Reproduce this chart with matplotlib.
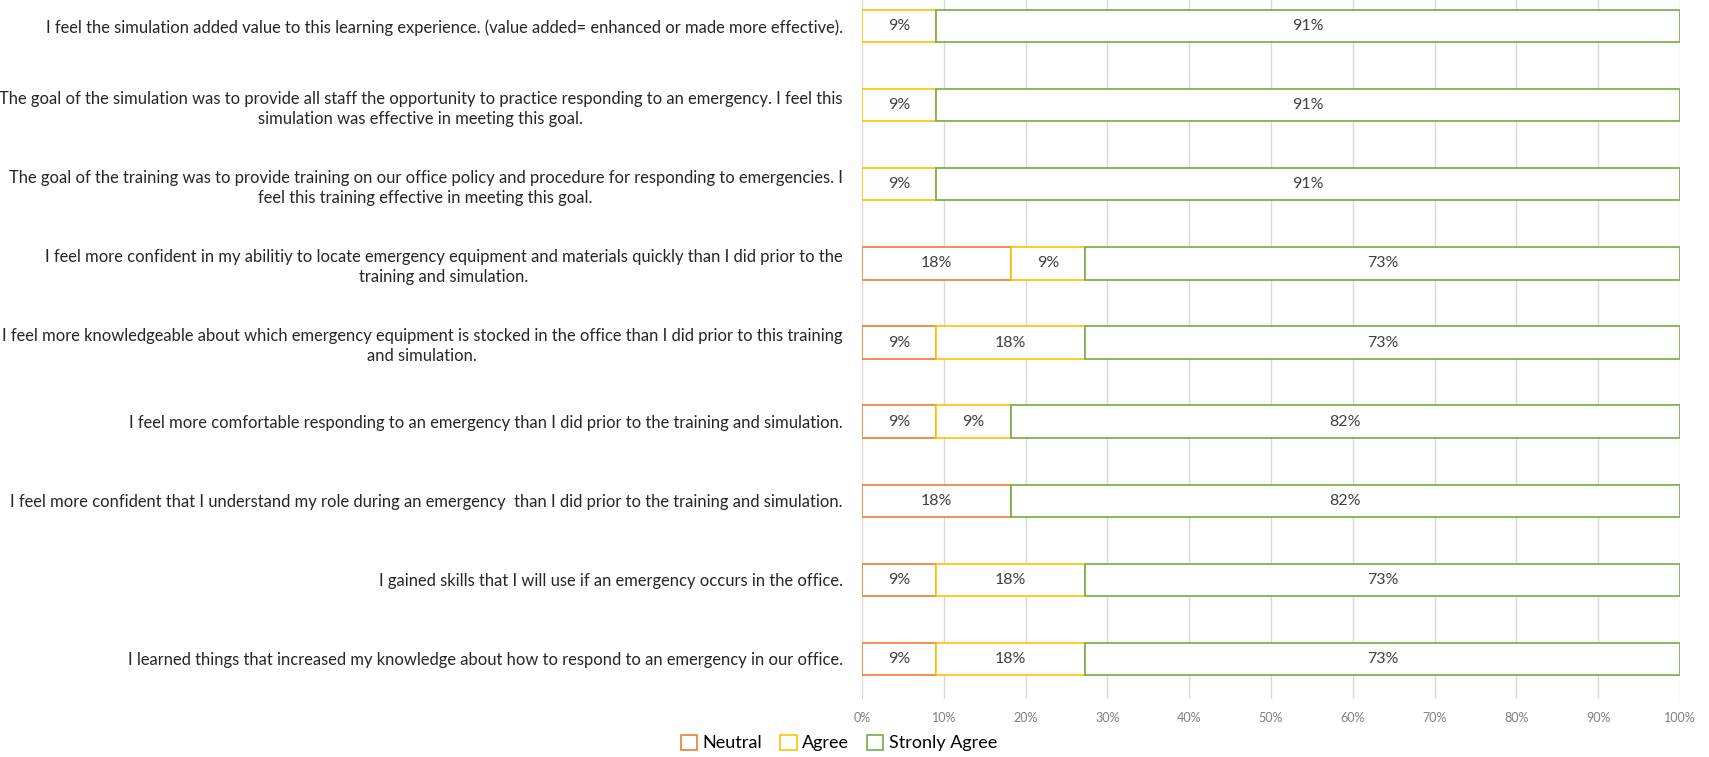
import numpy as np
import matplotlib.pyplot as plt
from matplotlib.patches import Patch

# Preguntas (de arriba hacia abajo)
preguntas = [
    "I feel the simulation added value to this learning experience. (value added= enhanced or made more effective).",
    "The goal of the simulation was to provide all staff the opportunity to practice responding to an emergency. I feel this\nsimulation was effective in meeting this goal.",
    "The goal of the training was to provide training on our office policy and procedure for responding to emergencies. I\nfeel this training effective in meeting this goal.",
    "I feel more confident in my abilitiy to locate emergency equipment and materials quickly than I did prior to the\ntraining and simulation.",
    "I feel more knowledgeable about which emergency equipment is stocked in the office than I did prior to this training\nand simulation.",
    "I feel more comfortable responding to an emergency than I did prior to the training and simulation.",
    "I feel more confident that I understand my role during an emergency  than I did prior to the training and simulation.",
    "I gained skills that I will use if an emergency occurs in the office.",
    "I learned things that increased my knowledge about how to respond to an emergency in our office.",
]

# Porcentajes por respuesta
neutral = [0, 0, 0, 18.18, 9.09, 9.09, 18.18, 9.09, 9.09]
agree = [9.09, 9.09, 9.09, 9.09, 18.18, 9.09, 0, 18.18, 18.18]
strongly = [90.91, 90.91, 90.91, 72.73, 72.73, 81.82, 81.82, 72.73, 72.73]

series = ["Neutral", "Agree", "Stronly Agree"]
colores = ["#ED7D31", "#FFC000", "#70AD47"]
ticks = [0, 10, 20, 30, 40, 50, 60, 70, 80, 90, 100]

fuente = ['Lato', 'DejaVu Sans']

fig = plt.figure(figsize=(17.09, 7.57), dpi=100)
ax = fig.add_axes([862 / 1709, 1 - 698.5 / 757, 818 / 1709, 712 / 757])

y = np.arange(len(preguntas))
izq = np.zeros(len(preguntas))
for nombre, valores, color in zip(series, [neutral, agree, strongly], colores):
    valores = np.array(valores)
    barras = ax.barh(y, valores, left=izq, height=0.41, facecolor="white",
                     edgecolor=color, linewidth=1.2, zorder=3)
    for yi, l, v in zip(y, izq, valores):
        if v > 0:
            ax.text(l + v / 2, yi, f"{v:.0f}%", ha="center", va="center",
                    fontsize=11.5, color="#404040", family=fuente, zorder=4)
    izq += valores

ax.set_xlim(0, 100)
ax.set_ylim(len(preguntas) - 0.5, -0.5)
ax.set_xticks(ticks)
ax.set_xticklabels([f"{t}%" for t in ticks], fontsize=9, color="#7f7f7f", family=fuente)
ax.set_yticks(y)
ax.set_yticklabels(preguntas, fontsize=11.9, color="#262626", family=fuente)
plt.setp(ax.get_yticklabels(), multialignment="center", linespacing=1.3)
ax.tick_params(axis="both", length=0)
ax.tick_params(axis="y", pad=14)
ax.tick_params(axis="x", pad=10)
ax.grid(axis="x", color="#D9D9D9", linewidth=1, zorder=0)
for s in ax.spines.values():
    s.set_visible(False)

handles = [Patch(facecolor="white", edgecolor=c, linewidth=1.2, label=n)
           for n, c in zip(series, colores)]
fig.legend(handles=handles, loc="center", bbox_to_anchor=(839 / 1709, 1 - 743 / 757),
           ncol=3, frameon=False, handlelength=0.9, handleheight=0.9,
           handletextpad=0.3, columnspacing=1.0,
           prop={"family": fuente, "size": 13})

plt.savefig("out.png", dpi=100)
